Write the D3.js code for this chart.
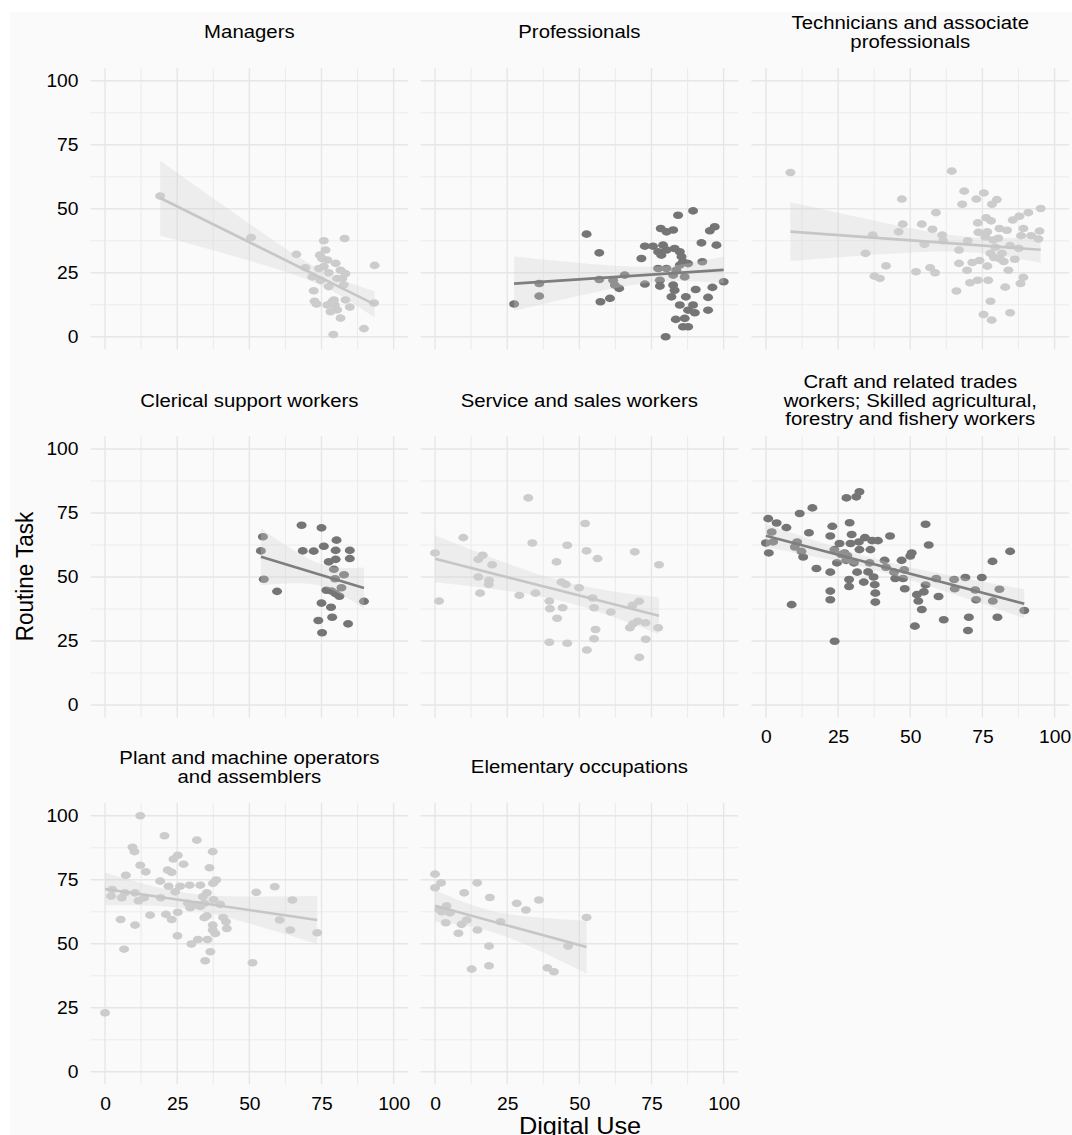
<!DOCTYPE html>
<html>
<head>
<meta charset="utf-8">
<script src="https://cdn.jsdelivr.net/npm/d3@7"></script>
<style>
  html, body { margin: 0; padding: 0; background: #fff; }
  svg { display: block; font-family: "Liberation Sans", Arial, sans-serif; }
</style>
</head>
<body>
<div id="main"></div>
<script>
// [digital use, routine task] per occupation group
var managers = [[19.1,55.0],[50.6,38.8],[66.3,32.2],[69.4,27.0],[71.8,23.4],[72.3,18.0],[72.6,13.9],[73.3,12.8],[74.7,22.1],[75.8,37.5],[74.4,31.9],[75.2,30.6],[76.4,33.9],[77.0,30.0],[75.8,27.4],[74.1,26.7],[77.5,19.6],[77.0,12.4],[78.1,9.8],[79.3,14.4],[79.6,12.4],[80.4,10.5],[79.9,28.7],[80.4,22.8],[81.6,26.0],[82.2,22.8],[83.3,24.7],[82.7,20.3],[83.3,14.4],[84.8,11.6],[81.6,7.3],[83.0,38.4],[79.1,0.9],[89.7,3.2],[93.4,27.9],[93.2,13.2],[77.5,25.0],[78.7,13.7]];

var professionals = [[27.4,12.8],[36.1,20.8],[36.1,15.9],[52.5,40.1],[56.9,32.8],[56.9,22.4],[57.3,13.7],[60.6,15.0],[61.7,22.1],[62.3,20.2],[63.8,18.9],[65.7,24.1],[84.2,47.5],[89.4,49.2],[78.2,42.3],[80.2,41.0],[82.5,41.7],[95.2,41.4],[96.9,43.0],[72.7,35.4],[75.5,35.4],[79.0,35.8],[77.3,33.2],[80.2,33.9],[83.0,34.5],[84.8,33.2],[85.4,31.3],[78.4,31.9],[92.3,36.7],[97.5,35.8],[71.5,30.6],[85.9,29.3],[87.7,28.6],[92.6,29.3],[84.8,28.0],[77.3,26.7],[80.2,26.7],[83.6,26.0],[82.5,24.1],[86.5,23.4],[72.7,20.6],[77.9,22.1],[77.9,19.8],[82.5,20.2],[83.0,18.2],[81.9,15.6],[90.3,18.5],[96.1,19.3],[100,21.5],[86.9,15.6],[94.6,15.4],[84.8,12.4],[89.4,12.4],[87.7,10.4],[90.0,9.4],[94.6,10.4],[86.5,7.2],[83.4,6.8],[85.9,3.9],[87.7,3.9],[79.9,0]];

var technicians = [[8.5,64.2],[34.5,32.6],[37.0,39.7],[37.6,23.7],[39.5,22.8],[41.6,27.7],[46.0,41.0],[47.4,44.0],[47.1,53.8],[52.0,25.4],[54.0,44.0],[54.9,36.1],[56.9,27.0],[57.7,42.0],[58.6,25.0],[58.9,48.5],[61.1,39.7],[61.4,37.5],[64.4,64.7],[66.0,17.9],[66.9,33.9],[66.9,28.7],[68.0,51.8],[68.7,56.9],[69.7,26.0],[69.9,37.5],[70.7,21.1],[71.5,29.0],[72.9,53.8],[73.4,22.1],[73.4,44.5],[73.6,40.8],[74.0,29.8],[75.5,56.2],[76.3,46.5],[76.7,41.0],[76.7,27.6],[77.0,22.1],[77.8,13.9],[77.8,32.6],[78.0,45.3],[78.3,51.8],[75.4,8.7],[78.2,6.5],[78.7,37.8],[80.0,53.6],[80.9,42.3],[81.8,32.6],[82.4,29.4],[82.9,19.4],[83.5,41.6],[84.0,26.0],[84.6,9.4],[84.6,35.6],[85.5,45.6],[86.2,30.3],[87.6,34.6],[87.8,47.1],[88.2,20.8],[88.4,39.5],[89.2,42.3],[89.2,23.2],[90.9,48.5],[91.9,39.5],[94.4,38.2],[94.8,41.3],[95.2,50.1],[79.5,35.0],[80.5,38.5],[76.0,39.0],[81.0,30.5],[79.0,31.0]];

var clerical = [[54.7,65.7],[54.0,60.2],[55.0,49.1],[59.6,44.4],[68.1,70.2],[68.5,60.2],[72.3,60.1],[75.0,69.2],[75.8,62.0],[77.5,55.9],[79.3,53.0],[79.9,60.4],[80.2,64.4],[79.9,56.9],[79.7,49.3],[82.8,50.9],[84.8,60.4],[84.8,57.2],[76.7,44.8],[78.5,44.5],[79.9,43.5],[81.2,42.5],[81.9,45.8],[75.0,39.8],[78.3,38.2],[78.7,34.3],[73.9,33.0],[75.2,28.2],[84.2,31.7],[89.7,40.5]];

var service = [[0.0,59.4],[1.4,40.6],[9.8,65.4],[15.0,56.9],[16.5,58.5],[19.8,54.8],[15.0,50.0],[18.7,48.7],[18.6,47.1],[15.6,43.7],[29.2,42.8],[32.3,80.9],[33.7,63.3],[34.8,43.7],[39.6,40.6],[39.8,37.6],[44.2,38.0],[42.3,33.9],[42.1,55.9],[43.8,48.0],[45.3,47.1],[45.8,62.4],[49.9,45.8],[52.0,70.9],[52.5,60.2],[56.3,57.2],[54.6,41.8],[55.1,38.0],[55.6,29.5],[55.1,25.9],[39.6,24.5],[45.8,24.1],[52.6,21.5],[60.9,36.3],[69.2,59.8],[68.4,38.9],[70.7,40.5],[67.5,30.2],[68.6,31.7],[70.2,32.7],[72.9,32.1],[73.0,25.7],[70.8,18.6],[77.3,30.2],[77.6,54.8]];

var craft = [[0.8,72.8],[0.0,63.3],[1.0,59.4],[2.0,67.6],[2.5,63.7],[3.7,71.1],[7.1,69.3],[8.9,39.2],[10.0,61.7],[10.8,63.7],[11.7,74.8],[12.3,60.0],[12.9,57.8],[14.9,67.3],[16.1,77.0],[17.5,53.3],[22.3,66.0],[23.0,69.8],[22.3,51.9],[22.3,44.5],[22.3,41.1],[23.8,24.9],[23.7,60.7],[24.6,55.5],[25.5,63.1],[26.1,58.8],[27.2,59.4],[27.8,56.5],[27.9,80.9],[28.2,58.3],[29.0,71.2],[29.7,66.6],[29.3,63.1],[28.8,49.0],[28.8,46.3],[30.5,55.5],[31.3,81.3],[32.4,83.3],[31.6,51.9],[32.2,63.7],[32.4,60.7],[33.9,48.0],[34.3,65.4],[35.4,52.0],[35.9,55.5],[36.2,60.7],[36.8,64.2],[37.3,50.0],[37.7,47.0],[37.9,43.7],[37.9,40.2],[38.8,64.2],[41.1,56.5],[41.6,53.8],[43.0,66.0],[44.4,51.9],[44.8,49.4],[47.0,56.5],[47.5,49.4],[48.1,45.4],[47.9,52.8],[50.0,58.2],[50.5,59.4],[51.6,30.8],[52.3,43.1],[52.8,40.6],[54.0,37.3],[54.7,44.2],[55.3,46.9],[55.3,70.6],[56.4,62.5],[59.8,42.4],[59.0,49.4],[61.6,33.3],[65.2,49.0],[65.4,45.4],[69.1,49.8],[70.3,34.3],[70.0,29.1],[72.5,44.9],[72.8,41.1],[74.8,49.8],[78.5,56.1],[78.6,40.6],[80.2,34.3],[80.9,45.2],[84.6,60.0],[89.5,36.9]];

var plant = [[0,23.0],[12.2,100],[20.6,92.2],[31.8,90.5],[9.5,87.7],[10.2,86.0],[37.3,86.0],[25.2,84.6],[23.7,83.1],[27.2,81.1],[12.2,80.7],[36.2,79.7],[21.7,78.8],[23.1,77.9],[14.1,78.1],[7.2,76.8],[38.5,74.9],[19.1,74.5],[37.4,73.6],[33.0,72.9],[22.0,72.5],[26.0,72.5],[29.3,72.9],[2.5,71.2],[24.3,70.3],[6.9,69.9],[10.4,69.9],[2.1,68.6],[5.8,68.0],[11.6,66.8],[13.5,68.0],[19.3,68.0],[33.9,68.4],[35.3,69.9],[34.4,65.8],[37.6,67.2],[39.9,65.4],[28.7,65.8],[29.5,64.1],[31.8,65.2],[33.0,64.6],[25.2,62.3],[21.1,61.5],[23.1,59.5],[15.6,61.2],[35.3,60.9],[34.4,60.2],[40.9,60.3],[41.9,58.6],[37.3,57.3],[37.3,55.4],[38.2,54.0],[42.2,56.0],[5.4,59.5],[10.4,57.3],[25.1,53.1],[29.9,49.9],[32.2,51.7],[35.5,51.7],[36.5,46.9],[34.7,43.4],[6.6,47.9],[52.4,70.1],[58.8,72.3],[64.9,67.1],[60.5,59.3],[64.2,55.4],[73.5,54.3],[51.1,42.6]];

var elementary = [[0,77.2],[0,71.9],[2.1,73.8],[2.3,62.5],[4.0,64.8],[3.7,58.2],[5.2,62.1],[8.1,54.1],[9.2,57.6],[10.1,69.9],[11.0,59.3],[12.7,40.1],[14.6,73.8],[14.7,55.4],[18.7,49.1],[18.7,41.4],[19.0,68.1],[22.7,58.6],[28.3,65.8],[31.5,63.2],[36.0,67.1],[38.9,40.6],[41.2,39.1],[46.1,49.1],[52.5,60.3],[1.5,63.4]];

var titles = [
  ['Managers'],
  ['Professionals'],
  ['Technicians and associate', 'professionals'],
  ['Clerical support workers'],
  ['Service and sales workers'],
  ['Craft and related trades', 'workers; Skilled agricultural,', 'forestry and fishery workers'],
  ['Plant and machine operators', 'and assemblers'],
  ['Elementary occupations']
];
var groups = [managers, professionals, technicians, clerical, service, craft, plant, elementary];
var darkGroups = ['Professionals', 'Clerical support workers', 'Craft and related trades'];

var majorTicks = [0, 25, 50, 75, 100];
var minorTicks = [12.5, 37.5, 62.5, 87.5];

// layout
var W = 1072, H = 1135;
var colLeft = [90.6, 420.6, 751.5], rowTop = [68, 436.2, 803];
var pw = 317.5, ph = 281.6;
var stretch = 1.1;   // text in the picture is a bit wide

// 97.5% t quantile, Cornish-Fisher style approximation
function tq(df) {
  var z = 1.959964;
  return z + (z*z*z + z) / (4*df) + (5*Math.pow(z,5) + 16*z*z*z + 3*z) / (96*df*df);
}

function fit(pts) {
  var n = pts.length;
  var mx = d3.mean(pts, function(d) { return d[0]; });
  var my = d3.mean(pts, function(d) { return d[1]; });
  var sxx = d3.sum(pts, function(d) { return (d[0]-mx)*(d[0]-mx); });
  var sxy = d3.sum(pts, function(d) { return (d[0]-mx)*(d[1]-my); });
  var b = sxy / sxx, a = my - b*mx;
  var sse = d3.sum(pts, function(d) { var r = d[1] - (a + b*d[0]); return r*r; });
  var s = Math.sqrt(sse / (n-2)), t = tq(n-2);
  return {
    pred: function(x) { return a + b*x; },
    half: function(x) { return t * s * Math.sqrt(1/n + (x-mx)*(x-mx)/sxx); }
  };
}

var svg = d3.select('#main').append('svg')
    .attr('width', W).attr('height', H);

svg.append('rect')
    .attr('x', 10).attr('y', 12)
    .attr('width', W - 10).attr('height', H - 12)
    .attr('fill', '#fafafa');

groups.forEach(function(pts, i) {
  var col = i % 3, row = Math.floor(i / 3);
  var dark = darkGroups.some(function(t) { return titles[i][0].indexOf(t) === 0; });
  var g = svg.append('g')
      .attr('transform', 'translate(' + colLeft[col] + ',' + rowTop[row] + ')');

  var x = d3.scaleLinear().domain([-5, 105]).range([0, pw]);
  var y = d3.scaleLinear().domain([-5, 105]).range([ph, 0]);

  // grid
  var grid = g.append('g');
  [[minorTicks, '#ececec', 1.1], [majorTicks, '#e6e6e6', 1.4]].forEach(function(set) {
    grid.selectAll(null).data(set[0]).enter().append('line')
        .attr('x1', function(d) { return x(d); }).attr('x2', function(d) { return x(d); })
        .attr('y1', 0).attr('y2', ph)
        .attr('stroke', set[1]).attr('stroke-width', set[2]);
    grid.selectAll(null).data(set[0]).enter().append('line')
        .attr('y1', function(d) { return y(d); }).attr('y2', function(d) { return y(d); })
        .attr('x1', 0).attr('x2', pw)
        .attr('stroke', set[1]).attr('stroke-width', set[2]);
  });

  // points
  g.append('g').selectAll('ellipse').data(pts).enter().append('ellipse')
      .attr('cx', function(d) { return x(d[0]); })
      .attr('cy', function(d) { return y(d[1]); })
      .attr('rx', 5).attr('ry', 3.8)
      .attr('fill', dark ? '#757575' : '#cccccc');

  // lm smooth with 95% band
  var f = fit(pts);
  var ext = d3.extent(pts, function(d) { return d[0]; });
  var xs = d3.range(0, 61).map(function(k) { return ext[0] + (ext[1]-ext[0]) * k / 60; });

  g.append('path')
      .datum(xs)
      .attr('d', d3.area()
        .x(function(d) { return x(d); })
        .y0(function(d) { return y(f.pred(d) - f.half(d)); })
        .y1(function(d) { return y(f.pred(d) + f.half(d)); }))
      .attr('fill', '#cfcfcf').attr('fill-opacity', 0.3);

  g.append('path')
      .datum(ext)
      .attr('d', d3.line()
        .x(function(d) { return x(d); })
        .y(function(d) { return y(f.pred(d)); }))
      .attr('fill', 'none')
      .attr('stroke', dark ? '#7e7e7e' : '#c6c6c6')
      .attr('stroke-width', 2.6);

  // strip title
  var lines = titles[i];
  g.selectAll('text.strip').data(lines).enter().append('text')
      .attr('class', 'strip')
      .attr('text-anchor', 'middle')
      .attr('font-size', '18.5px')
      .attr('fill', '#000')
      .attr('transform', function(d, k) {
        var yb = -29.7 + (k - (lines.length - 1) / 2) * 18.8;
        return 'translate(' + (pw/2) + ',' + yb + ') scale(' + stretch + ',1)';
      })
      .text(function(d) { return d; });

  // axes
  if (col === 0) {
    var ya = g.append('g')
        .call(d3.axisLeft(y).tickValues(majorTicks).tickSize(0).tickPadding(11));
    styleAxis(ya);
  }
  if (row === 2 || (row === 1 && col === 2)) {
    var xa = g.append('g')
        .attr('transform', 'translate(0,' + ph + ')')
        .call(d3.axisBottom(x).tickValues(majorTicks).tickSize(0).tickPadding(12.8));
    styleAxis(xa);
  }
});

function styleAxis(sel) {
  sel.select('.domain').remove();
  sel.attr('font-family', null).attr('font-size', null);
  sel.selectAll('text')
      .attr('font-size', '17.5px')
      .attr('fill', '#000')
      .attr('transform', 'scale(' + stretch + ',1)');
}

// axis titles
svg.append('text')
    .attr('text-anchor', 'middle')
    .attr('font-size', '22.5px')
    .attr('fill', '#000')
    .attr('transform', 'translate(33,576.5) scale(' + stretch + ',1) rotate(-90)')
    .text('Routine Task');

svg.append('text')
    .attr('text-anchor', 'middle')
    .attr('font-size', '23px')
    .attr('fill', '#000')
    .attr('transform', 'translate(580,1133.5) scale(' + stretch + ',1)')
    .text('Digital Use');
</script>
</body>
</html>
